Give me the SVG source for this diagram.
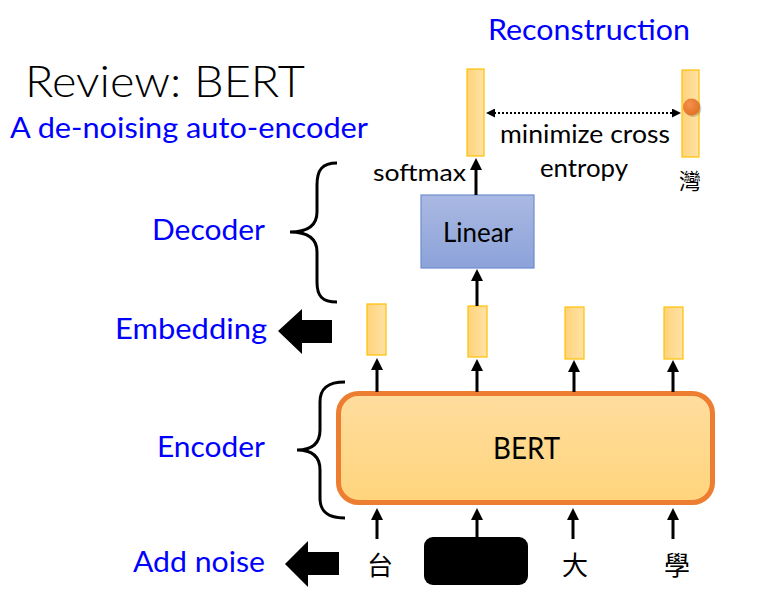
<svg xmlns="http://www.w3.org/2000/svg" width="758" height="612" viewBox="0 0 758 612">
  <defs>
    <style>
      .blue { fill: #0000FF; font-family: Lato, "Open Sans", "Liberation Sans", sans-serif; }
      .blk { fill: #000000; font-family: Lato, "Open Sans", "Liberation Sans", sans-serif; }
      .cjk { fill: #000000; font-family: "Noto Sans CJK TC", "Noto Sans CJK SC", sans-serif; }
      .conn { stroke: #000000; stroke-width: 3; fill: none; }
      .brace { stroke: #000000; stroke-width: 3; fill: none; }
      .vec { fill: url(#vecGrad); stroke: #FFC000; stroke-width: 1.2; }
    </style>
    <linearGradient id="vecGrad" x1="0" y1="0" x2="1" y2="0">
      <stop offset="0" stop-color="#FFD37A"/>
      <stop offset="1" stop-color="#FFE2A6"/>
    </linearGradient>
    <linearGradient id="bertGrad" x1="0" y1="0" x2="0" y2="1">
      <stop offset="0" stop-color="#FFDD9E"/>
      <stop offset="1" stop-color="#FFD47C"/>
    </linearGradient>
    <linearGradient id="linGrad" x1="0" y1="0" x2="0" y2="1">
      <stop offset="0" stop-color="#AAB9E2"/>
      <stop offset="1" stop-color="#8CA2D9"/>
    </linearGradient>
    <radialGradient id="dotGrad" cx="0.4" cy="0.35" r="0.7">
      <stop offset="0" stop-color="#F4914F"/>
      <stop offset="1" stop-color="#E0701F"/>
    </radialGradient>
    <marker id="ah" markerWidth="12" markerHeight="12" refX="1" refY="6" orient="auto" markerUnits="userSpaceOnUse">
      <path d="M0,0 L12,6 L0,12 z" fill="#000000"/>
    </marker>
    <marker id="dh" markerWidth="9" markerHeight="9" refX="1" refY="4.5" orient="auto-start-reverse" markerUnits="userSpaceOnUse">
      <path d="M0,0 L9,4.5 L0,9 z" fill="#000000"/>
    </marker>
  </defs>

  <rect width="758" height="612" fill="#FFFFFF"/>

  <!-- Titles -->
  <g id="title">
    <text class="blk" x="25" y="97" font-size="44" font-weight="300" textLength="280" lengthAdjust="spacingAndGlyphs">Review: BERT</text>
    <text class="blue" x="10" y="138" font-size="29" textLength="358" lengthAdjust="spacingAndGlyphs">A de-noising auto-encoder</text>
  </g>

  <!-- Left labels -->
  <g id="label-decoder"><text class="blue" x="152" y="240" font-size="28" textLength="113" lengthAdjust="spacingAndGlyphs">Decoder</text></g>
  <g id="label-embedding"><text class="blue" x="115" y="339" font-size="28" textLength="152" lengthAdjust="spacingAndGlyphs">Embedding</text></g>
  <g id="label-encoder"><text class="blue" x="157" y="457" font-size="28" textLength="108" lengthAdjust="spacingAndGlyphs">Encoder</text></g>
  <g id="label-addnoise"><text class="blue" x="133" y="572" font-size="28" textLength="132" lengthAdjust="spacingAndGlyphs">Add noise</text></g>
  <g id="label-reconstruction"><text class="blue" x="488" y="40" font-size="28" textLength="202" lengthAdjust="spacingAndGlyphs">Reconstruction</text></g>

  <!-- Braces -->
  <g id="brace-decoder">
    <path class="brace" d="M337,163 C322,163 317,170 317,185 L317,212 C317,226 307,232 290,232 C307,232 317,238 317,252 L317,282 C317,296 322,302 337,302"/>
  </g>
  <g id="brace-encoder">
    <path class="brace" d="M345,382 C328,382 320,388 320,402 L320,430 C320,444 312,450 297,450 C312,450 320,456 320,470 L320,498 C320,512 328,518 345,518"/>
  </g>

  <!-- Big left arrows -->
  <g id="arrow-embedding">
    <polygon points="278,331 302,309 302,320 332,320 332,343 302,343 302,354" fill="#000000"/>
  </g>
  <g id="arrow-addnoise">
    <polygon points="285,564 308,541 308,552 339,552 339,575 308,575 308,587" fill="#000000"/>
  </g>

  <!-- Output vectors -->
  <g id="out-vec-1"><rect class="vec" x="467" y="69" width="17" height="87"/></g>
  <g id="out-vec-2">
    <rect class="vec" x="682" y="70" width="17" height="87"/>
    <circle cx="693" cy="108.5" r="8.5" fill="#000000" opacity="0.18"/>
    <circle cx="691.5" cy="107" r="8.5" fill="url(#dotGrad)"/>
  </g>

  <!-- Texts near top -->
  <g id="label-softmax"><text class="blk" x="373" y="181" font-size="24" textLength="93" lengthAdjust="spacingAndGlyphs">softmax</text></g>
  <g id="label-ce">
    <text class="blk" x="500" y="143" font-size="25" textLength="170" lengthAdjust="spacingAndGlyphs">minimize cross</text>
    <text class="blk" x="540" y="177" font-size="25" textLength="88" lengthAdjust="spacingAndGlyphs">entropy</text>
  </g>
  <g id="label-wan"><text class="cjk" x="690" y="189" font-size="22" text-anchor="middle">灣</text></g>

  <!-- Linear -->
  <g id="linear">
    <rect x="421" y="195" width="113" height="73" fill="url(#linGrad)" stroke="#6E8DD0" stroke-width="1.2"/>
    <text class="blk" x="443" y="242" font-size="26" textLength="70" lengthAdjust="spacingAndGlyphs">Linear</text>
  </g>

  <!-- Embedding vectors -->
  <g id="emb-1"><rect class="vec" x="367" y="304" width="19" height="51"/></g>
  <g id="emb-2"><rect class="vec" x="468" y="306" width="19" height="51"/></g>
  <g id="emb-3"><rect class="vec" x="565" y="307" width="19" height="52"/></g>
  <g id="emb-4"><rect class="vec" x="664" y="307" width="19" height="52"/></g>

  <!-- BERT -->
  <g id="bert">
    <rect x="338.5" y="393.5" width="374" height="109" rx="20" ry="20" fill="url(#bertGrad)" stroke="#ED7D31" stroke-width="5"/>
    <text class="blk" x="493" y="459" font-size="30" textLength="67" lengthAdjust="spacingAndGlyphs">BERT</text>
  </g>

  <!-- Inputs -->
  <g id="in-1"><text class="cjk" x="380" y="575" font-size="26" text-anchor="middle">台</text></g>
  <g id="in-mask"><rect x="424" y="537" width="104" height="48" rx="9" ry="9" fill="#000000"/></g>
  <g id="in-3"><text class="cjk" x="575" y="575" font-size="26" text-anchor="middle">大</text></g>
  <g id="in-4"><text class="cjk" x="677" y="575" font-size="26" text-anchor="middle">學</text></g>

  <!-- Connectors -->
  <g id="connectors">
    <line class="conn" x1="377" y1="539" x2="377" y2="519" marker-end="url(#ah)"/>
    <line class="conn" x1="477" y1="537" x2="477" y2="519" marker-end="url(#ah)"/>
    <line class="conn" x1="573" y1="539" x2="573" y2="519" marker-end="url(#ah)"/>
    <line class="conn" x1="673" y1="539" x2="673" y2="519" marker-end="url(#ah)"/>

    <line class="conn" x1="377" y1="392" x2="377" y2="369" marker-end="url(#ah)"/>
    <line class="conn" x1="477" y1="392" x2="477" y2="370" marker-end="url(#ah)"/>
    <line class="conn" x1="574" y1="392" x2="574" y2="371" marker-end="url(#ah)"/>
    <line class="conn" x1="673" y1="392" x2="673" y2="371" marker-end="url(#ah)"/>

    <line class="conn" x1="477" y1="306" x2="477" y2="280" marker-end="url(#ah)"/>
    <line class="conn" x1="476" y1="195" x2="476" y2="169" marker-end="url(#ah)"/>

    <line x1="494" y1="113" x2="673" y2="113" stroke="#000000" stroke-width="2" stroke-dasharray="2 2" marker-start="url(#dh)" marker-end="url(#dh)"/>
  </g>
</svg>
